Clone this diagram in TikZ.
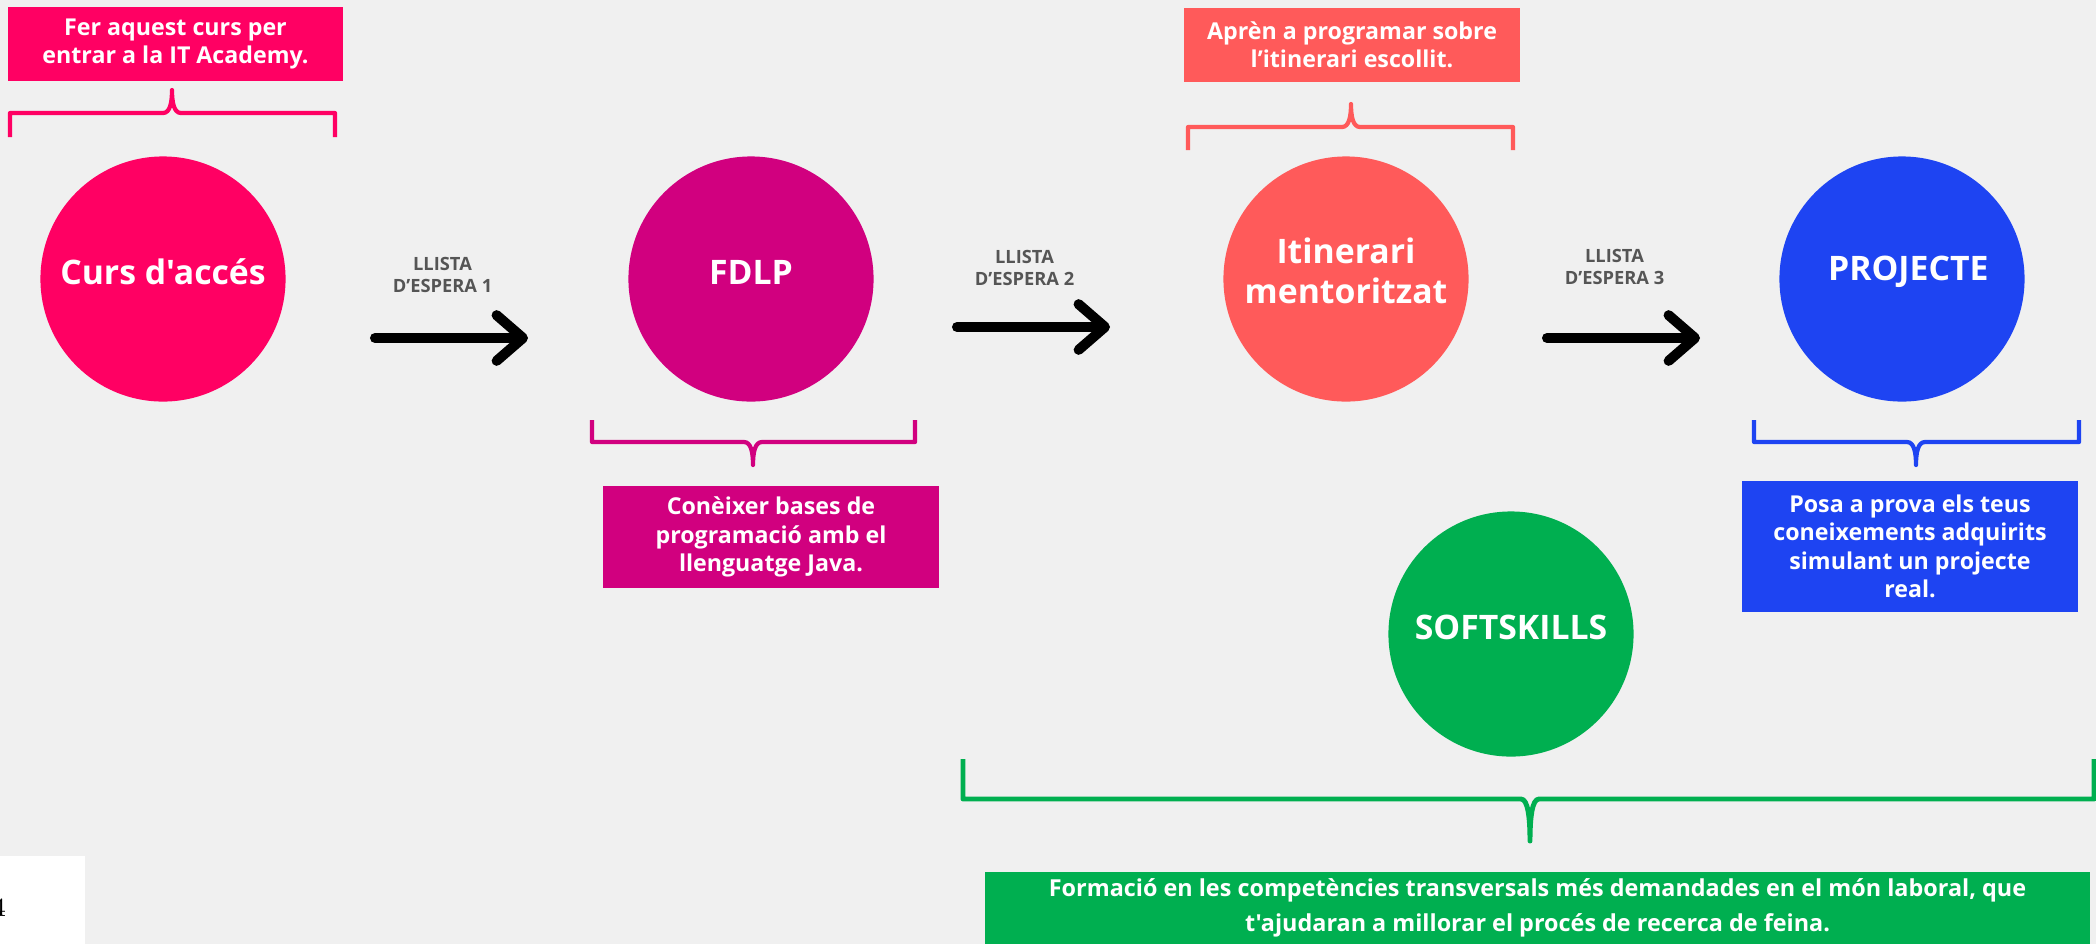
\documentclass[tikz,border=0pt]{standalone}
\usepackage{fontspec}
\newfontfamily\osans{Open Sans}[Ligatures=TeXOff]
\newfontfamily\lmroman{Latin Modern Roman}
\usetikzlibrary{arrows.meta}

\definecolor{fons}{HTML}{F0F0F0}
\definecolor{colacces}{HTML}{FF0063}
\definecolor{colfdlp}{HTML}{D1007F}
\definecolor{colitin}{HTML}{FF5A5A}
\definecolor{colproj}{HTML}{1E44F2}
\definecolor{colsoft}{HTML}{00AF50}
\definecolor{grisllista}{HTML}{555555}

\tikzset{
	cercle/.style={circle,fill=#1,minimum size=2.45cm,inner sep=0pt},
	textcercle/.style={text=white,inner sep=0pt,align=center,
		font=\osans\bfseries\fontsize{9.6}{11.4}\selectfont},
	caixa/.style={fill=#1,text=white,inner sep=0pt,align=center,
		font=\osans\bfseries\fontsize{6.6}{8.1}\selectfont},
	llista/.style={text=grisllista,inner sep=0pt,align=center,
		font=\osans\bfseries\fontsize{5.2}{6.3}\selectfont},
	fletxa/.style={line width=2.85pt,line cap=round,-{Straight Barb[length=7.5pt,width=13pt,round]}},
	clau/.style={line width=1.2pt,line join=round,color=#1},
}

% clau: color, x1, x2, y barra, y extrems, x punta, y punta
\newcommand{\clau}[7]{
	\draw[clau=#1] (#2,#5) -- (#2,#4) -- ({#6-9},#4)
		.. controls ({#6-2},#4) and (#6,{#4+0.45*(#7-#4)}) .. (#6,#7)
		.. controls (#6,{#4+0.45*(#7-#4)}) and ({#6+2},#4) .. ({#6+9},#4)
		-- (#3,#4) -- (#3,#5);
}

\begin{document}
\begin{tikzpicture}[x=0.01cm,y=-0.01cm]
\useasboundingbox (0,0) rectangle (2096,944);
\fill[fons] (0,0) rectangle (2096,944);
\fill[white] (0,856) rectangle (85,944);
\node[font=\lmroman\fontsize{7.4}{8}\selectfont,anchor=base east,inner sep=0pt] (pag) at (7,916) {4};

% etapes
\node[cercle=colacces] (acces) at (163,279) {};
\node[cercle=colfdlp] (fdlp) at (751,279) {};
\node[cercle=colitin] (itin) at (1346,279) {};
\node[cercle=colproj] (proj) at (1902,279) {};
\node[cercle=colsoft] (soft) at (1511,634) {};

\node[textcercle] (tacces) at ([yshift=2pt]acces.center) {Curs d'accés};
\node[textcercle] (tfdlp) at ([yshift=2pt]fdlp.center) {FDLP};
\node[textcercle] (titin) at ([yshift=2.2pt]itin.center) {Itinerari\\mentoritzat};
\node[textcercle] (tproj) at ([xshift=1.8pt,yshift=2pt]proj.center) {PROJECTE};
\node[textcercle] (tsoft) at ([yshift=2pt]soft.center) {SOFTSKILLS};

% llistes d'espera
\foreach \n/\xa/\xb/\y/\ly in {1/375/528/338/275, 2/957/1110/327/268, 3/1547/1700/338/267}{
	\coordinate (ini\n) at (\xa,\y);
	\coordinate (fi\n) at (\xb,\y);
	\draw[fletxa] (ini\n) -- (fi\n);
	\node[llista] (llista\n) at ({(\xa+\xb)/2-9},\ly) {LLISTA\\D’ESPERA \n};
}

% descripcions
\node[caixa=colacces,minimum width=3.35cm,minimum height=0.74cm] (txtacces) at (175.5,44)
	{Fer aquest curs per\\entrar a la IT Academy.};
\node[caixa=colfdlp,minimum width=3.36cm,minimum height=1.02cm] (txtfdlp) at (771,537)
	{Conèixer bases de\\programació amb el\\llenguatge Java.};
\node[caixa=colitin,minimum width=3.36cm,minimum height=0.74cm] (txtitin) at (1352,45)
	{Aprèn a programar sobre\\l’itinerari escollit.};
\node[caixa=colproj,minimum width=3.36cm,minimum height=1.31cm] (txtproj) at (1910,546.5)
	{Posa a prova els teus\\coneixements adquirits\\simulant un projecte\\real.};
\node[caixa=colsoft,minimum width=11.05cm,minimum height=0.72cm,
	font=\osans\bfseries\fontsize{6.65}{10}\selectfont] (txtsoft) at (1537.5,908)
	{Formació en les competències transversals més demandades en el món laboral, que\\t'ajudaran a millorar el procés de recerca de feina.};

% claus
\clau{colacces}{10}{335}{113}{137}{172}{90}
\clau{colitin}{1188}{1513}{127}{150}{1351}{104}
\clau{colfdlp}{592}{915}{442}{420}{753}{465}
\clau{colproj}{1754}{2079}{442}{420}{1916}{465}
\draw[clau=colsoft,line width=1.4pt] (963,759) -- (963,799) -- (1521,799)
	.. controls (1528,799) and (1530,818) .. (1530,841)
	.. controls (1530,818) and (1532,799) .. (1539,799) -- (2094,799) -- (2094,759);

\end{tikzpicture}
\end{document}
